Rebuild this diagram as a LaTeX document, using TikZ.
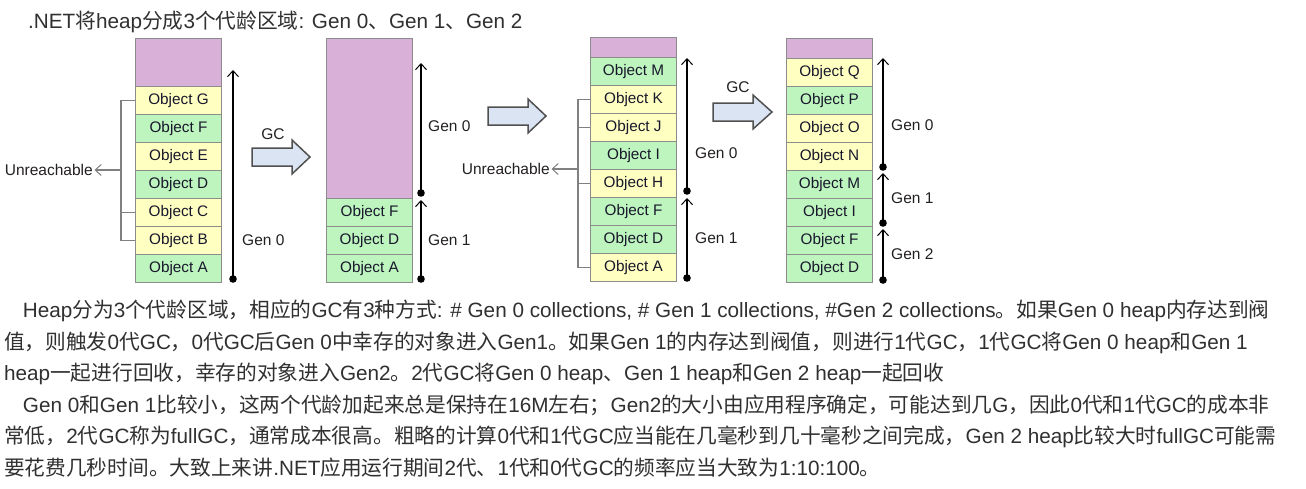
\documentclass[tikz,border=0pt]{standalone}
\usepackage{fontspec}
\setmainfont{Liberation Sans}
\newfontfamily\cjk{Noto Sans CJK SC}
\usetikzlibrary{arrows.meta}
\newcommand\zh[1]{{\cjk #1}}
\definecolor{purp}{RGB}{216,176,216}
\definecolor{grn}{RGB}{190,244,190}
\definecolor{ylw}{RGB}{255,255,194}
\definecolor{boxline}{RGB}{140,140,140}
\definecolor{objtext}{RGB}{24,24,44}
\definecolor{labtext}{RGB}{36,32,32}
\definecolor{bodytext}{RGB}{48,48,48}
\definecolor{afill}{RGB}{218,228,242}
\definecolor{aline}{RGB}{80,80,80}
\definecolor{brk}{RGB}{128,128,128}
\tikzset{
  obj/.style={draw=boxline, line width=1pt, minimum width=86pt, minimum height=28pt,
    inner sep=0pt, anchor=north west, text=objtext, font=\fontsize{15.3}{17}\selectfont},
  lab/.style={anchor=west, inner sep=0pt, text=labtext, font=\fontsize{15.5}{17}\selectfont},
  genline/.style={line width=1.4pt, black, -{Straight Barb[length=6pt,width=11pt,line width=1pt]}},
  gdot/.style={fill=black, draw=none},
  blockarrow/.style={draw=aline, line width=1.5pt, fill=afill, line join=miter},
  bracket/.style={draw=brk, line width=1.4pt},
  ureach/.style={draw=brk, line width=1.4pt, -{Straight Barb[length=6pt,width=11pt,line width=1pt]}},
  bodyline/.style={anchor=base west, inner sep=0pt, text=bodytext, font=\fontsize{20.7}{24}\selectfont}
}
\begin{document}
\begin{tikzpicture}[x=1pt,y=-1pt]
\useasboundingbox (0,0) rectangle (1306,488);
\fill[white] (0,0) rectangle (1306,488);

% title
\node[bodyline] (title) at (28,28.5) {.NET\zh{将}heap\zh{分成}3\zh{个代龄区域}: Gen 0\zh{、}Gen 1\zh{、}Gen 2};

% ===== Stack 1 =====
\node[obj, fill=purp, minimum height=48pt] (p1) at (135,38) {};
\node[obj, fill=ylw] (g1) at (135,86) {Object G};
\node[obj, fill=grn] (f1) at (135,114) {Object F};
\node[obj, fill=ylw] (e1) at (135,142) {Object E};
\node[obj, fill=grn] (d1) at (135,170) {Object D};
\node[obj, fill=ylw] (c1) at (135,198) {Object C};
\node[obj, fill=ylw] (b1) at (135,226) {Object B};
\node[obj, fill=grn] (a1) at (135,254) {Object A};
\coordinate (v1b) at (233,279);
\coordinate (v1t) at (233,70);
\draw[genline] (v1b) -- (v1t);
\fill[gdot] (v1b) circle (3.8);
\node[lab] (gen01) at (242,240) {Gen 0};
% unreachable 1
\draw[bracket] (g1.west) -- ++(-14,0) |- (b1.west);
\draw[bracket] (c1.west) -- ++(-14,0);
\coordinate (j1) at (121,170);
\node[lab, anchor=east] (u1) at (93,170) {Unreachable};
\draw[ureach] (j1) -- ([xshift=1.5pt]u1.east);

% GC arrow 1
\draw[blockarrow] (252,148) -- (292,148) -- (292,140) -- (310,157) -- (292,174) -- (292,166) -- (252,166) -- cycle;
\node[lab, anchor=center] (gc1) at (273,134) {GC};

% ===== Stack 2 =====
\node[obj, fill=purp, minimum height=160pt] (p2) at (326,38) {};
\node[obj, fill=grn] (f2) at (326,198) {Object F};
\node[obj, fill=grn] (d2) at (326,226) {Object D};
\node[obj, fill=grn] (a2) at (326,254) {Object A};
\coordinate (v2b) at (421,279);
\coordinate (v2m) at (421,193);
\coordinate (v2a) at (421,200);
\coordinate (v2t) at (421,63);
\draw[genline] (v2b) -- (v2a);
\draw[genline] (v2m) -- (v2t);
\fill[gdot] (v2b) circle (3.8);
\fill[gdot] (v2m) circle (3.8);
\node[lab] (gen02) at (428,126) {Gen 0};
\node[lab] (gen12) at (428,240) {Gen 1};

% arrow 2
\draw[blockarrow] (488,107) -- (528,107) -- (528,99) -- (546,116) -- (528,133) -- (528,125) -- (488,125) -- cycle;

% ===== Stack 3 =====
\node[obj, fill=purp, minimum height=20pt] (p3) at (590,37) {};
\node[obj, fill=grn] (m3) at (590,57) {Object M};
\node[obj, fill=ylw] (k3) at (590,85) {Object K};
\node[obj, fill=ylw] (j3) at (590,113) {Object J};
\node[obj, fill=grn] (i3) at (590,141) {Object I};
\node[obj, fill=ylw] (h3) at (590,169) {Object H};
\node[obj, fill=grn] (f3) at (590,197) {Object F};
\node[obj, fill=grn] (d3) at (590,225) {Object D};
\node[obj, fill=ylw] (a3) at (590,253) {Object A};
\coordinate (v3b) at (687,278);
\coordinate (v3m) at (687,191);
\coordinate (v3a) at (687,198);
\coordinate (v3t) at (687,58);
\draw[genline] (v3b) -- (v3a);
\draw[genline] (v3m) -- (v3t);
\fill[gdot] (v3b) circle (3.8);
\fill[gdot] (v3m) circle (3.8);
\node[lab] (gen03) at (695,153) {Gen 0};
\node[lab] (gen13) at (695,238) {Gen 1};
% unreachable 2
\draw[bracket] (k3.west) -- ++(-12,0) |- (a3.west);
\draw[bracket] (j3.west) -- ++(-12,0);
\draw[bracket] (h3.west) -- ++(-12,0);
\coordinate (j2) at (578,169);
\node[lab, anchor=east] (u2) at (550,169) {Unreachable};
\draw[ureach] (j2) -- ([xshift=1.5pt]u2.east);

% GC arrow 3
\draw[blockarrow] (713,103) -- (753,103) -- (753,95) -- (772,112) -- (753,129) -- (753,121) -- (713,121) -- cycle;
\node[lab, anchor=center] (gc3) at (738,87) {GC};

% ===== Stack 4 =====
\node[obj, fill=purp, minimum height=20pt] (p4) at (786,38) {};
\node[obj, fill=ylw] (q4) at (786,58) {Object Q};
\node[obj, fill=grn] (pp4) at (786,86) {Object P};
\node[obj, fill=ylw] (o4) at (786,114) {Object O};
\node[obj, fill=ylw] (n4) at (786,142) {Object N};
\node[obj, fill=grn] (m4) at (786,170) {Object M};
\node[obj, fill=grn] (i4) at (786,198) {Object I};
\node[obj, fill=grn] (f4) at (786,226) {Object F};
\node[obj, fill=grn] (d4) at (786,254) {Object D};
\coordinate (v4b) at (883,280);
\coordinate (v4m) at (883,223);
\coordinate (v4n) at (883,167);
\coordinate (v4a) at (883,229);
\coordinate (v4c) at (883,173);
\coordinate (v4t) at (883,58);
\draw[genline] (v4b) -- (v4a);
\draw[genline] (v4m) -- (v4c);
\draw[genline] (v4n) -- (v4t);
\fill[gdot] (v4b) circle (3.8);
\fill[gdot] (v4m) circle (3.8);
\fill[gdot] (v4n) circle (3.8);
\node[lab] (gen04) at (891,125) {Gen 0};
\node[lab] (gen14) at (891,198) {Gen 1};
\node[lab] (gen24) at (891,254) {Gen 2};

% ===== body text =====
\node[bodyline] (l1) at (22.7,317.5) {Heap\zh{分为}3\zh{个代龄区域，相应的}GC\zh{有}3\zh{种方式}: \# Gen 0 collections, \# Gen 1 collections, \#Gen 2 collections\zh{。如果}Gen 0 heap\zh{内存达到阀}};
\node[bodyline] (l2) at (4,349) {\zh{值，则触发}0\zh{代}GC\zh{，}0\zh{代}GC\zh{后}Gen 0\zh{中幸存的对象进入}Gen1\zh{。如果}Gen 1\zh{的内存达到阀值，则进行}1\zh{代}GC\zh{，}1\zh{代}GC\zh{将}Gen 0 heap\zh{和}Gen 1};
\node[bodyline] (l3) at (4,380.5) {heap\zh{一起进行回收，幸存的对象进入}Gen2\zh{。}2\zh{代}GC\zh{将}Gen 0 heap\zh{、}Gen 1 heap\zh{和}Gen 2 heap\zh{一起回收}};
\node[bodyline] (l4) at (22.7,412) {Gen 0\zh{和}Gen 1\zh{比较小，这两个代龄加起来总是保持在}16M\zh{左右；}Gen2\zh{的大小由应用程序确定，可能达到几}G\zh{，因此}0\zh{代和}1\zh{代}GC\zh{的成本非}};
\node[bodyline] (l5) at (4,443.5) {\zh{常低，}2\zh{代}GC\zh{称为}fullGC\zh{，通常成本很高。粗略的计算}0\zh{代和}1\zh{代}GC\zh{应当能在几毫秒到几十毫秒之间完成，}Gen 2 heap\zh{比较大时}fullGC\zh{可能需}};
\node[bodyline] (l6) at (4,475) {\zh{要花费几秒时间。大致上来讲}.NET\zh{应用运行期间}2\zh{代、}1\zh{代和}0\zh{代}GC\zh{的频率应当大致为}1:10:100\zh{。}};
\end{tikzpicture}
\end{document}
